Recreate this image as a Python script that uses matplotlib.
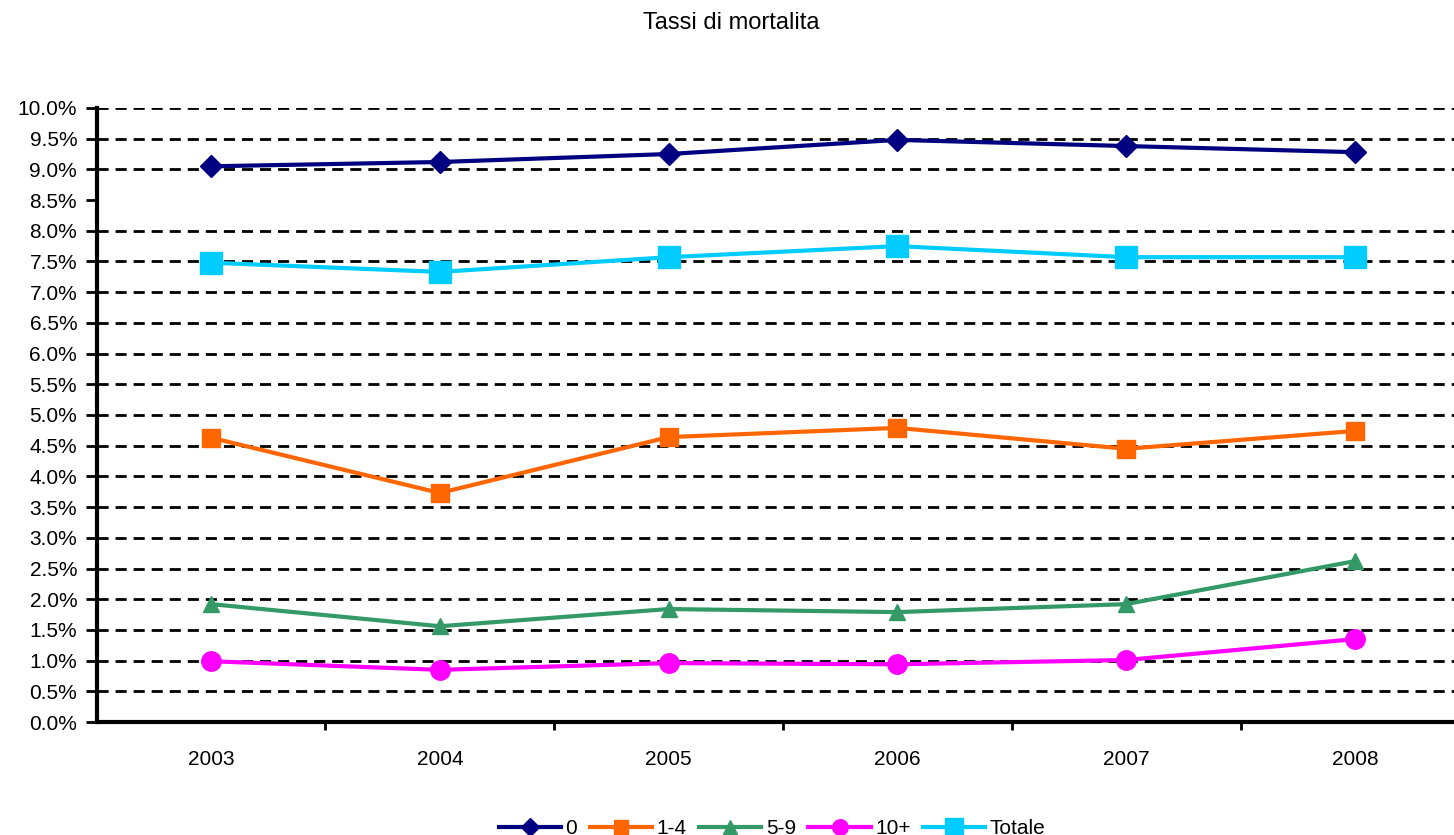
import numpy as np
import matplotlib.pyplot as plt
from matplotlib.ticker import FuncFormatter, MultipleLocator

plt.rcParams['font.family'] = ['Liberation Sans', 'DejaVu Sans']

years = ['2003', '2004', '2005', '2006', '2007', '2008']
series_names = ['0', '1-4', '5-9', '10+', 'Totale']
rate_0 = [9.05, 9.12, 9.25, 9.48, 9.38, 9.28]
rate_1_4 = [4.63, 3.73, 4.64, 4.79, 4.45, 4.74]
rate_5_9 = [1.92, 1.56, 1.84, 1.79, 1.92, 2.62]
rate_10 = [0.99, 0.85, 0.96, 0.94, 1.01, 1.35]
rate_tot = [7.48, 7.33, 7.57, 7.75, 7.57, 7.57]

colors = ['#000080', '#FF6600', '#339966', '#FF00FF', '#00CCFF']
markers = ['D', 's', '^', 'o', 's']
msizes = [11, 13, 12, 14, 16]

fig = plt.figure(figsize=(14.54, 8.35), dpi=100)
ax = fig.add_axes([0.0665, 0.1353, 0.944, 0.7354])

x = np.arange(len(years))
for vals, name, c, m, ms in zip([rate_0, rate_1_4, rate_5_9, rate_10, rate_tot],
                                series_names, colors, markers, msizes):
    ax.plot(x, vals, color=c, marker=m, markersize=ms, lw=3,
            label=name, zorder=3, clip_on=False)

ax.set_xlim(-0.5, 5.5)
ax.set_ylim(0, 10)
ax.yaxis.set_major_locator(MultipleLocator(0.5))
ax.yaxis.set_major_formatter(FuncFormatter(lambda v, p: f'{v:.1f}%'))

# dashed gridlines (the 8.5% line is missing in the original)
for k in range(1, 21):
    if k == 17:
        continue
    ax.axhline(k * 0.5, color='black', lw=2, ls=(0, (4, 2.5)), zorder=1)

ax.set_xticks(x)
ax.set_xticklabels(years)
ax.set_xticks(np.arange(0.5, 5, 1), minor=True)
ax.tick_params(axis='x', which='major', length=0, pad=20, labelsize=15)
ax.tick_params(axis='x', which='minor', length=6, width=2, direction='out')
ax.tick_params(axis='y', length=8, width=2, direction='out', labelsize=15, pad=6)

for s in ['top', 'right']:
    ax.spines[s].set_visible(False)
for s in ['left', 'bottom']:
    ax.spines[s].set_linewidth(3)

fig.text(0.503, 0.972, 'Tassi di mortalita', ha='center', va='center', fontsize=17)

fig.legend(loc='center', bbox_to_anchor=(0.531, 0.008), ncol=5, frameon=False,
           fontsize=15, handlelength=3.0, handletextpad=0.2, columnspacing=0.6,
           markerscale=0.8)

fig.savefig('out.png', dpi=100)
